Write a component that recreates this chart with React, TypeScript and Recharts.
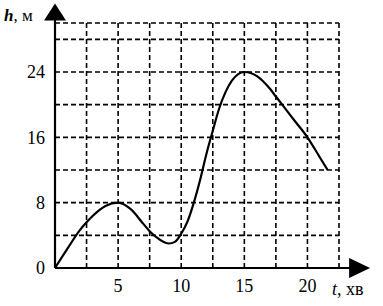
import React from 'react';
import { LineChart, Line, XAxis, YAxis, CartesianGrid, ReferenceLine, ReferenceDot } from 'recharts';

const times = [0, 1, 2, 2.5, 3, 4, 5, 6, 7, 7.5, 8, 9, 9.5, 10, 10.5, 11, 11.5, 12, 12.5, 13, 13.5, 14, 15, 16, 17, 17.5, 18, 19, 20, 21, 21.6];
const heights = [0, 2.4, 4.7, 5.6, 6.4, 7.6, 8.0, 7.2, 5.4, 4.5, 3.8, 3.0, 3.2, 4.2, 5.7, 8.0, 10.8, 14.0, 16.8, 19.5, 21.5, 22.9, 24, 23.5, 22, 21, 20, 18, 16, 13.5, 12];
const xTicks = [0, 2.5, 5, 7.5, 10, 12.5, 15, 17.5, 20, 22.5];
const xLabels = [5, 10, 15, 20];
const yTicks = [0, 4, 8, 12, 16, 20, 24, 28, 30];
const yLabels = [0, 8, 16, 24];
const xDomain = [0, 22.5];
const yDomain = [0, 30];
const xArrowBase = 23.3;
const yArrowBase = 30.3;

const data = times.map((t, i) => ({ t, h: heights[i] }));

const FONT = "'Liberation Serif', 'DejaVu Serif', serif";
const textStyle = { fontFamily: FONT };

const XArrow = (p: any) => (
  <polygon points={`${p.cx},${p.cy - 10} ${p.cx + 21},${p.cy} ${p.cx},${p.cy + 10}`} fill="#000" />
);
const YArrow = (p: any) => (
  <polygon points={`${p.cx - 11},${p.cy} ${p.cx},${p.cy - 17} ${p.cx + 11},${p.cy}`} fill="#000" />
);

const YLabel = (props: any) => {
  const vb = props.viewBox;
  return (
    <text x={vb.x + vb.width - 51} y={vb.y - 2} style={textStyle} fontSize={17} fill="#000">
      <tspan fontStyle="italic" fontWeight="bold">h</tspan>
      <tspan>, м</tspan>
    </text>
  );
};

const XLabel = (props: any) => {
  const vb = props.viewBox;
  return (
    <text x={vb.x + vb.width - 7} y={vb.y + 27} style={textStyle} fontSize={18} fill="#000">
      <tspan fontStyle="italic">t</tspan>
      <tspan>, хв</tspan>
    </text>
  );
};

export default function App() {
  return (
    <div style={{ position: 'fixed', left: 0, top: 0, background: '#fff', fontFamily: FONT }}>
      <LineChart width={383} height={306} data={data} margin={{ top: 23, right: 44, bottom: 0, left: 0 }} style={textStyle}>
        <CartesianGrid stroke="#000" strokeWidth={1.6} strokeDasharray="5 3" />
        <XAxis
          type="number"
          dataKey="t"
          domain={xDomain}
          ticks={xTicks}
          height={38}
          axisLine={false}
          tickLine={false}
          tickSize={0}
          tickMargin={11}
          interval={0}
          tickFormatter={(v: number) => (xLabels.includes(v) ? String(v) : '')}
          tick={{ fill: '#000', fontFamily: FONT, fontSize: 18, style: textStyle }}
          label={<XLabel />}
        />
        <YAxis
          type="number"
          domain={yDomain}
          ticks={yTicks}
          width={55}
          axisLine={false}
          tickLine={false}
          tickSize={0}
          tickMargin={10}
          interval={0}
          tickFormatter={(v: number) => (yLabels.includes(v) ? String(v) : '')}
          tick={{ fill: '#000', fontFamily: FONT, fontSize: 18, style: textStyle }}
          label={<YLabel />}
        />
        <ReferenceLine segment={[{ x: 0, y: 0 }, { x: xArrowBase + 0.3, y: 0 }]} stroke="#000" strokeWidth={2.2} ifOverflow="visible" />
        <ReferenceLine segment={[{ x: 0, y: 0 }, { x: 0, y: yArrowBase + 0.3 }]} stroke="#000" strokeWidth={2.2} ifOverflow="visible" />
        <ReferenceDot x={xArrowBase} y={0} ifOverflow="visible" shape={XArrow} />
        <ReferenceDot x={0} y={yArrowBase} ifOverflow="visible" shape={YArrow} />
        <Line type="monotone" dataKey="h" stroke="#000" strokeWidth={2.2} dot={false} isAnimationActive={false} />
      </LineChart>
    </div>
  );
}
